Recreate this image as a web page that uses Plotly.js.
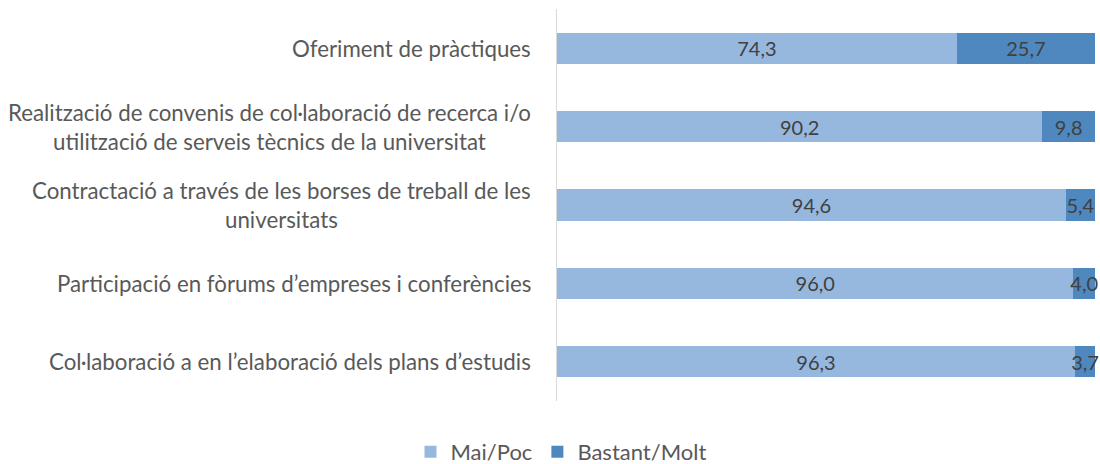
<!DOCTYPE html>
<html>
<head>
<meta charset="utf-8">
<script src="https://cdn.plot.ly/plotly-3.0.1.min.js"></script>
<style>html,body{margin:0;padding:0;background:#fff;}#chart{width:1100px;height:464px;}</style>
</head>
<body>
<div id="chart"></div>
<script>
const categories = [
  "Oferiment de pràctiques",
  "Realització de convenis de col·laboració de recerca i/o<br>utilització de serveis tècnics de la universitat",
  "Contractació a través de les borses de treball de les<br>universitats",
  "Participació en fòrums d’empreses i conferències",
  "Col·laboració a en l’elaboració dels plans d’estudis"
];
const seriesNames = ["Mai/Poc", "Bastant/Molt"];
const maiPoc = [74.3, 90.2, 94.6, 96.0, 96.3];
const bastantMolt = [25.7, 9.8, 5.4, 4.0, 3.7];

const fmt = v => v.toFixed(1).replace('.', ',');
const FONT = 'Lato, "Open Sans", sans-serif';
const colors = ['#96B8DF', '#4F88BE'];

const mk = (vals, name, color) => ({
  type: 'bar', orientation: 'h',
  y: categories, x: vals, name: name,
  marker: {color: color, line: {width: 0}},
  text: vals.map(fmt), textposition: 'inside', insidetextanchor: 'middle',
  textangle: 0, constraintext: 'none', cliponaxis: false,
  textfont: {family: FONT, size: 20, color: '#404040'},
  hoverinfo: 'x+y'
});

const data = [mk(maiPoc, seriesNames[0], colors[0]), mk(bastantMolt, seriesNames[1], colors[1])];

const annotations = categories.map(c => ({
  xref: 'paper', yref: 'y', x: 0, y: c, xanchor: 'right', yanchor: 'middle',
  xshift: -24, text: c, showarrow: false, align: 'center',
  font: {family: FONT, size: 22.3, color: '#595959'}
}));

const layout = {
  width: 1100, height: 464,
  margin: {l: 557, r: 5, t: 9, b: 63},
  paper_bgcolor: '#fff', plot_bgcolor: '#fff',
  barmode: 'stack', bargap: 0.6,
  showlegend: true,
  legend: {orientation: 'h', xref: 'container', yref: 'container', x: 0.51, y: 0.026,
    xanchor: 'center', yanchor: 'middle', font: {family: FONT, size: 22, color: '#595959'},
    itemwidth: 30, traceorder: 'normal'},
  xaxis: {range: [0, 100], showgrid: false, zeroline: false, showticklabels: false, showline: false, fixedrange: true},
  yaxis: {autorange: 'reversed', showticklabels: false, showgrid: false, zeroline: false,
    showline: true, linecolor: '#D9D9D9', linewidth: 1.5, ticks: ''},
  annotations: annotations
};

Plotly.newPlot('chart', data, layout, {displayModeBar: false, staticPlot: true});
</script>
</body>
</html>
